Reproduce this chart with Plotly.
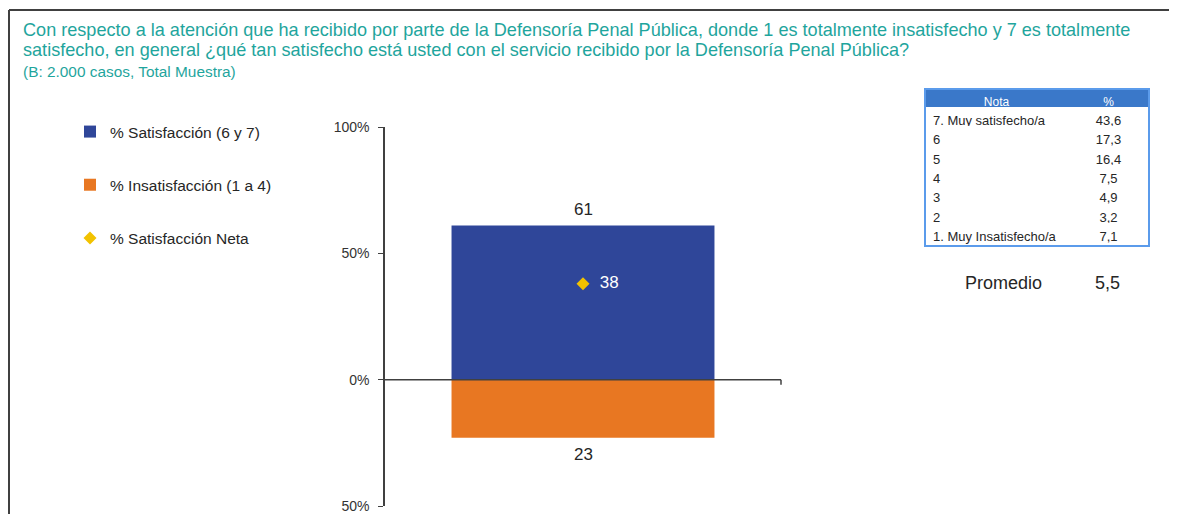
import plotly.graph_objects as go

# ---- data ----
category = ["Total"]
satisfaccion = [61]
insatisfaccion = [23]
neta = [38]

tabla_nota = ["7. Muy satisfecho/a", "6", "5", "4", "3", "2", "1. Muy Insatisfecho/a"]
tabla_pct = [43.6, 17.3, 16.4, 7.5, 4.9, 3.2, 7.1]
promedio = 5.5

y_tickvals = [-50, 0, 50, 100]
y_ticktext = ["50%", "0%", "50%", "100%"]

W, H = 1177, 514
S = 8  # page body margin offset


def px_x(p):
    return (p - S) / W


def px_y(p):
    return 1 - (p - S) / H


FONT = "Liberation Sans, Arial, sans-serif"
TEAL = "#1FA59D"
BLUE = "#2F4699"
ORANGE = "#E87722"
GOLD = "#F2C200"
DARK = "#262626"

fig = go.Figure()

fig.add_trace(go.Bar(
    x=category, y=satisfaccion, name="% Satisfacción (6 y 7)",
    marker=dict(color=BLUE, line=dict(width=0)), width=0.664,
    legendgroup="a", cliponaxis=False, hoverinfo="skip",
))
fig.add_trace(go.Bar(
    x=category, y=[-v for v in insatisfaccion], name="% Insatisfacción (1 a 4)",
    marker=dict(color=ORANGE, line=dict(width=0)), width=0.664,
    legendgroup="b", cliponaxis=False, hoverinfo="skip",
))
fig.add_trace(go.Scatter(
    x=category, y=neta, name="% Satisfacción Neta", mode="markers+text",
    marker=dict(symbol="diamond", size=10, color=GOLD),
    text=["  " + str(v) for v in neta], textposition="middle right",
    textfont=dict(size=17, color="white", family=FONT),
    legendgroup="c", hoverinfo="skip",
))

# bar value labels
fig.add_annotation(x=category[0], y=satisfaccion[0], xref="x", yref="y",
                   text=str(satisfaccion[0]), showarrow=False, yanchor="middle", yshift=16,
                   font=dict(size=17, color=DARK, family=FONT))
fig.add_annotation(x=category[0], y=-insatisfaccion[0], xref="x", yref="y",
                   text=str(insatisfaccion[0]), showarrow=False, yanchor="middle", yshift=-17,
                   font=dict(size=17, color=DARK, family=FONT))

# table
fig.add_trace(go.Table(
    domain=dict(x=[px_x(925), px_x(1149)], y=[px_y(246), px_y(89)]),
    columnwidth=[143, 81],
    header=dict(values=["Nota", "%"], fill_color="#3A78C9",
                font=dict(color="white", size=12, family=FONT),
                align="center", height=18, line=dict(color="#3A78C9", width=0)),
    cells=dict(values=[tabla_nota, [f"{v:.1f}".replace(".", ",") for v in tabla_pct]],
               fill_color="white", font=dict(color=DARK, size=13, family=FONT),
               align=["left", "center"], height=19.4,
               line=dict(color="white", width=0)),
))

fig.update_layout(
    width=W, height=H,
    margin=dict(l=0, r=0, t=0, b=0, autoexpand=False),
    paper_bgcolor="white", plot_bgcolor="white",
    barmode="overlay",
    font=dict(family=FONT, color=DARK),
    showlegend=True,
    legend=dict(x=px_x(70), y=px_y(115), xanchor="left", yanchor="top",
                traceorder="grouped", tracegroupgap=30,
                font=dict(size=15.5, color=DARK, family=FONT),
                itemwidth=30, bgcolor="rgba(0,0,0,0)"),
    xaxis=dict(domain=[px_x(385), px_x(781)], range=[-0.5, 0.5], visible=False,
               automargin=False),
    yaxis=dict(domain=[px_y(506), px_y(127)], range=[-50, 100],
               tickvals=y_tickvals, ticktext=y_ticktext,
               showline=True, linecolor="#404040", linewidth=1.5,
               ticks="outside", ticklen=5, tickcolor="#404040",
               ticklabelstandoff=6,
               tickfont=dict(size=14, color="#333333", family=FONT),
               showgrid=False, zeroline=False, automargin=False),
)

# zero line of category axis with end tick
fig.add_shape(type="line", xref="paper", yref="y",
              x0=px_x(385), x1=px_x(781), y0=0, y1=0,
              line=dict(color="#404040", width=1.5))
fig.add_shape(type="line", xref="paper", yref="y", ysizemode="pixel", yanchor=0,
              x0=px_x(781), x1=px_x(781), y0=0, y1=-5,
              line=dict(color="#404040", width=1.5))

# table border
fig.add_shape(type="rect", xref="paper", yref="paper",
              x0=px_x(925), x1=px_x(1149), y0=px_y(246), y1=px_y(89),
              line=dict(color="#5B9BEB", width=2), fillcolor="rgba(0,0,0,0)")

# outer frame (top and left)
fig.add_shape(type="line", xref="paper", yref="paper",
              x0=px_x(9), x1=1.0, y0=px_y(10), y1=px_y(10),
              line=dict(color="#404040", width=2))
fig.add_shape(type="line", xref="paper", yref="paper",
              x0=px_x(9), x1=px_x(9), y0=px_y(10), y1=0,
              line=dict(color="#404040", width=2))

# titles
fig.add_annotation(
    text="Con respecto a la atención que ha recibido por parte de la Defensoría Penal Pública, donde 1 es totalmente insatisfecho y 7 es totalmente",
    xref="paper", yref="paper", x=px_x(21), y=px_y(30), xanchor="left", yanchor="middle",
    align="left", showarrow=False, font=dict(size=18.1, color=TEAL, family=FONT))
fig.add_annotation(
    text="satisfecho, en general ¿qué tan satisfecho está usted con el servicio recibido por la Defensoría Penal Pública?",
    xref="paper", yref="paper", x=px_x(21), y=px_y(50), xanchor="left", yanchor="middle",
    align="left", showarrow=False, font=dict(size=18.1, color=TEAL, family=FONT))
fig.add_annotation(
    text="(B: 2.000 casos, Total Muestra)",
    xref="paper", yref="paper", x=px_x(21), y=px_y(71), xanchor="left", yanchor="middle",
    align="left", showarrow=False, font=dict(size=15.4, color=TEAL, family=FONT))

# promedio
fig.add_annotation(text="Promedio", xref="paper", yref="paper", x=px_x(1003), y=px_y(283),
                   xanchor="center", yanchor="middle", showarrow=False,
                   font=dict(size=18, color=DARK, family=FONT))
fig.add_annotation(text=f"{promedio:.1f}".replace(".", ","), xref="paper", yref="paper",
                   x=px_x(1107), y=px_y(283), xanchor="center", yanchor="middle", showarrow=False,
                   font=dict(size=18, color=DARK, family=FONT))

fig.write_html("out.html")
